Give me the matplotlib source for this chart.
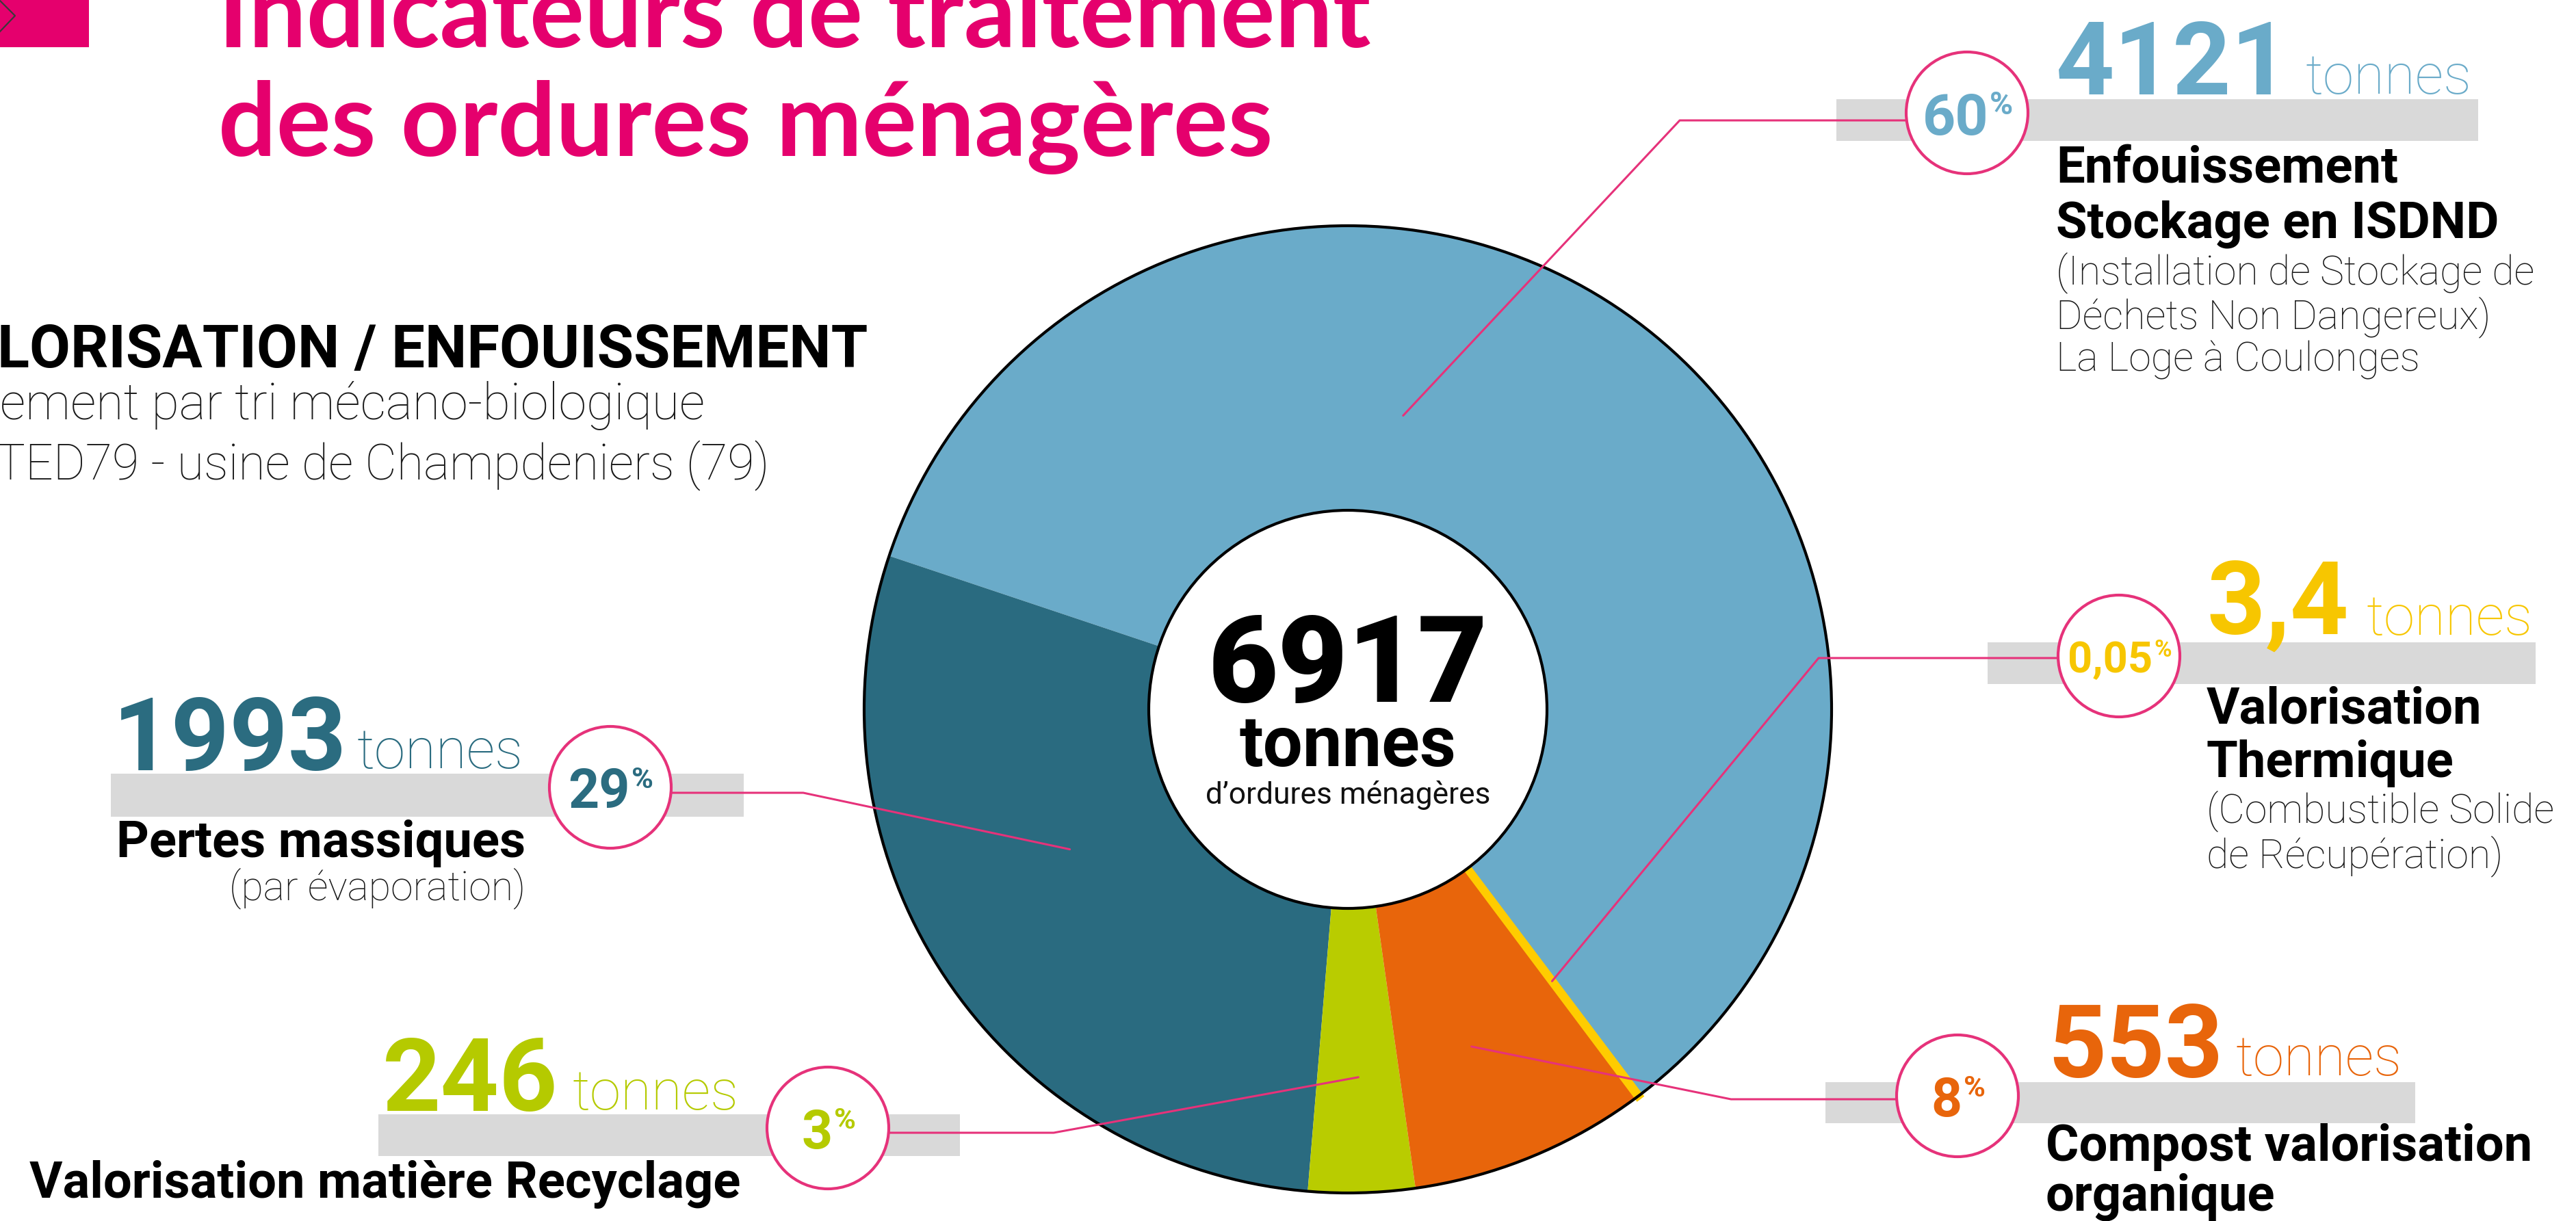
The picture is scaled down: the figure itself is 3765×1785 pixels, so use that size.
import matplotlib
matplotlib.use("Agg")
import matplotlib.pyplot as plt
from matplotlib.patches import Circle, Rectangle
import numpy as np

# ---------------- data ----------------
categories = ["Enfouissement", "Pertes massiques", "Valorisation matière Recyclage",
              "Compost valorisation organique", "Valorisation Thermique"]
tonnages = [4121, 1993, 246, 553, 3.4]
tonnage_labels = ["4121", "1993", "246", "553", "3,4"]
percent_labels = ["60", "29", "3", "8", "0,05"]
total_label = "6917"
unit_label = "tonnes"
total_caption = "d’ordures ménagères"
label_titles = [["Enfouissement", "Stockage en ISDND"],
                ["Pertes massiques"],
                ["Valorisation matière Recyclage"],
                ["Compost valorisation", "organique"],
                ["Valorisation", "Thermique"]]
label_notes = [["(Installation de Stockage de", "Déchets Non Dangereux)", "La Loge à Coulonges"],
               ["(par évaporation)"],
               [],
               [],
               ["(Combustible Solide", "de Récupération)"]]
title_lines = ["Indicateurs de traitement", "des ordures ménagères"]
left_block = ["LORISATION / ENFOUISSEMENT",
              "ement par tri mécano-biologique",
              "TED79 - usine de Champdeniers (79)"]

slice_colors = ["#6AABC9", "#2A6B80", "#B9CC00", "#E8650B", "#FFCC00"]
number_colors = ["#6AABC9", "#2B6C80", "#B5CA00", "#E8650B", "#F7C600"]
PINK = "#E5006D"
LINE_PINK = "#E6327A"
GREY = "#D9D9D9"

# ---------------- layout (pixels, y measured from top) ----------------
W, H = 3766, 1785
DPI = 100
PX = DPI / 72.0
CX, CY = 1970, 1037
R_OUT, R_IN = 707, 291
START = -53

layout = [
    dict(circle=(2875, 165), bar=(2684, 3622, 145, 206), num=(3005, 138), ton=(3370, 137),
         bend=(2455, 176), af=0.617, ar=437, tx=3005, ha="left",
         ty=[266, 348], ny=[415, 480, 542], pcap=60),
    dict(circle=(892, 1151), bar=(162, 1087, 1131, 1194), num=(165, 1126), ton=(522, 1123),
         bend=(1174, 1159), af=0.436, ar=455, tx=768, ha="right",
         ty=[1253], ny=[1315], pcap=56),
    dict(circle=(1210, 1649), bar=(553, 1403, 1629, 1690), num=(559, 1624), ton=(837, 1622),
         bend=(1540, 1656), af=0.5, ar=538, tx=1082, ha="right",
         ty=[1751], ny=[], pcap=56),
    dict(circle=(2861, 1602), bar=(2668, 3530, 1582, 1642), num=(2993, 1575), ton=(3268, 1572),
         bend=(2530, 1607), af=0.42, ar=525, tx=2990, ha="left",
         ty=[1697, 1770], ny=[], pcap=56),
    dict(circle=(3097, 959), bar=(2905, 3706, 939, 1000), num=(3225, 928), ton=(3459, 928),
         bend=(2658, 962), af=0.5, ar=497, tx=3225, ha="left",
         ty=[1057, 1136], ny=[1202, 1268], pcap=45),
]
CIRCLE_R = 89
CAP = 0.711  # Roboto cap height / em

fig = plt.figure(figsize=(W / DPI, H / DPI), dpi=DPI)
fig.patch.set_facecolor("white")
ax = fig.add_axes([0, 0, 1, 1])
renderer = fig.canvas.get_renderer()


def Y(y):
    return H - y


def fit_size(s, width, **kw):
    t = ax.text(0, 0, s, fontsize=100, **kw)
    w = t.get_window_extent(renderer).width
    t.remove()
    return 100.0 * width / w


def cap_size(cap_px):
    return cap_px / CAP / PX


def text_width(s, size, **kw):
    t = ax.text(0, 0, s, fontsize=size, **kw)
    w = t.get_window_extent(renderer).width
    t.remove()
    return w


def put(x, y, s, size, ha="left", va="baseline", **kw):
    return ax.text(x, Y(y), s, fontsize=size, ha=ha, va=va, zorder=7, **kw)


BOLD = dict(family="Roboto", weight="bold")
BLACK = dict(family="Roboto", weight="black")
LIGHT = dict(family="Roboto", weight="light")
REG = dict(family="Roboto", weight="normal")
TITLE = dict(family="Lato", weight="bold")

# ---------------- pie ----------------
wedges, _ = ax.pie(tonnages, colors=slice_colors, startangle=START, counterclock=True,
                   radius=R_OUT, center=(CX, Y(CY)), frame=True,
                   wedgeprops=dict(width=R_OUT - R_IN, linewidth=0, zorder=2))
# make the tiny thermal-recovery slice visible
wedges[4].set_edgecolor(slice_colors[4])
wedges[4].set_linewidth(8)

ax.add_patch(Circle((CX, Y(CY)), R_OUT, fill=False, ec="black", lw=3, zorder=3))
ax.add_patch(Circle((CX, Y(CY)), R_IN, fc="white", ec="black", lw=3, zorder=3))

ax.set_xlim(0, W)
ax.set_ylim(0, H)
ax.set_aspect("equal")
ax.axis("off")

# centre text
s = fit_size(total_label, 409, **BLACK)
put(CX, 1026, total_label, s, ha="center", color="black", **BLACK)
s = fit_size(unit_label, 317, **BOLD)
put(CX, 1120, unit_label, s, ha="center", color="black", **BOLD)
s = fit_size(total_caption, 417, **REG)
put(CX, 1175, total_caption, s, ha="center", color="#111111", **REG)

# ---------------- callouts ----------------
num_size = cap_size(106)
ton_size = fit_size(unit_label, 243, **LIGHT)
title_size = fit_size(label_titles[2][0], 1040, **BOLD)
note_size = fit_size(label_notes[0][0], 699, **LIGHT)

for i, L in enumerate(layout):
    cx, cy = L["circle"]
    x0, x1, y0, y1 = L["bar"]
    ax.add_patch(Rectangle((x0, Y(y1)), x1 - x0, y1 - y0, fc=GREY, ec="none", zorder=1))

    # leader line from inside the slice
    w = wedges[i]
    ang = np.deg2rad(w.theta1 + L["af"] * (w.theta2 - w.theta1))
    axp = CX + L["ar"] * np.cos(ang)
    ayp = Y(CY) + L["ar"] * np.sin(ang)
    bx, by = L["bend"]
    ax.plot([axp, bx, cx], [ayp, Y(by), Y(by)], color=LINE_PINK, lw=2.2,
            solid_capstyle="round", zorder=4)
    ax.add_patch(Circle((cx, Y(cy)), CIRCLE_R, fc="white", ec=LINE_PINK, lw=3, zorder=5))

    # percentage inside circle
    cap = L["pcap"]
    ps = cap_size(cap)
    pw = text_width(percent_labels[i], ps, **BOLD)
    sw = text_width("%", ps * 0.55, **BOLD)
    left = cx - (pw + sw) / 2
    put(left, cy + cap / 2 + 2, percent_labels[i], ps, color=number_colors[i], **BOLD)
    put(left + pw + 2, cy - cap / 2 - 3, "%", ps * 0.55, va="top", color=number_colors[i], **BOLD)

    # big number + unit
    nx, ny = L["num"]
    put(nx, ny, tonnage_labels[i], num_size, color=number_colors[i], **BOLD)
    tx_, ty_ = L["ton"]
    put(tx_, ty_, unit_label, ton_size, color=number_colors[i], **LIGHT)

    # titles and notes
    for line, yy in zip(label_titles[i], L["ty"]):
        put(L["tx"], yy, line, title_size, ha=L["ha"], color="black", **BOLD)
    for line, yy in zip(label_notes[i], L["ny"]):
        put(L["tx"], yy, line, note_size, ha=L["ha"], color="#1a1a1a", **LIGHT)

# ---------------- header ----------------
ax.add_patch(Rectangle((0, Y(69)), 130, 69, fc=PINK, ec="none", zorder=1))
ax.plot([0, 22, 0], [Y(1), Y(23), Y(46)], color="#3a3a3a", lw=1.6, zorder=2)

ts = fit_size(title_lines[1], 1542, **TITLE)
put(319, 69, title_lines[0], ts, color=PINK, **TITLE)
put(319, 228, title_lines[1], ts, color=PINK, **TITLE)

# left block (cut by the page edge)
s1 = fit_size(left_block[0], 1273, **BOLD)
put(-4, 537, left_block[0], s1, color="black", **BOLD)
s2 = fit_size(left_block[1], 1030, **LIGHT)
put(0, 612, left_block[1], s2, color="#1a1a1a", **LIGHT)
s3 = fit_size(left_block[2], 1132, **LIGHT)
put(-6, 701, left_block[2], s3, color="#1a1a1a", **LIGHT)

fig.savefig("out.png", dpi=DPI, facecolor="white")
